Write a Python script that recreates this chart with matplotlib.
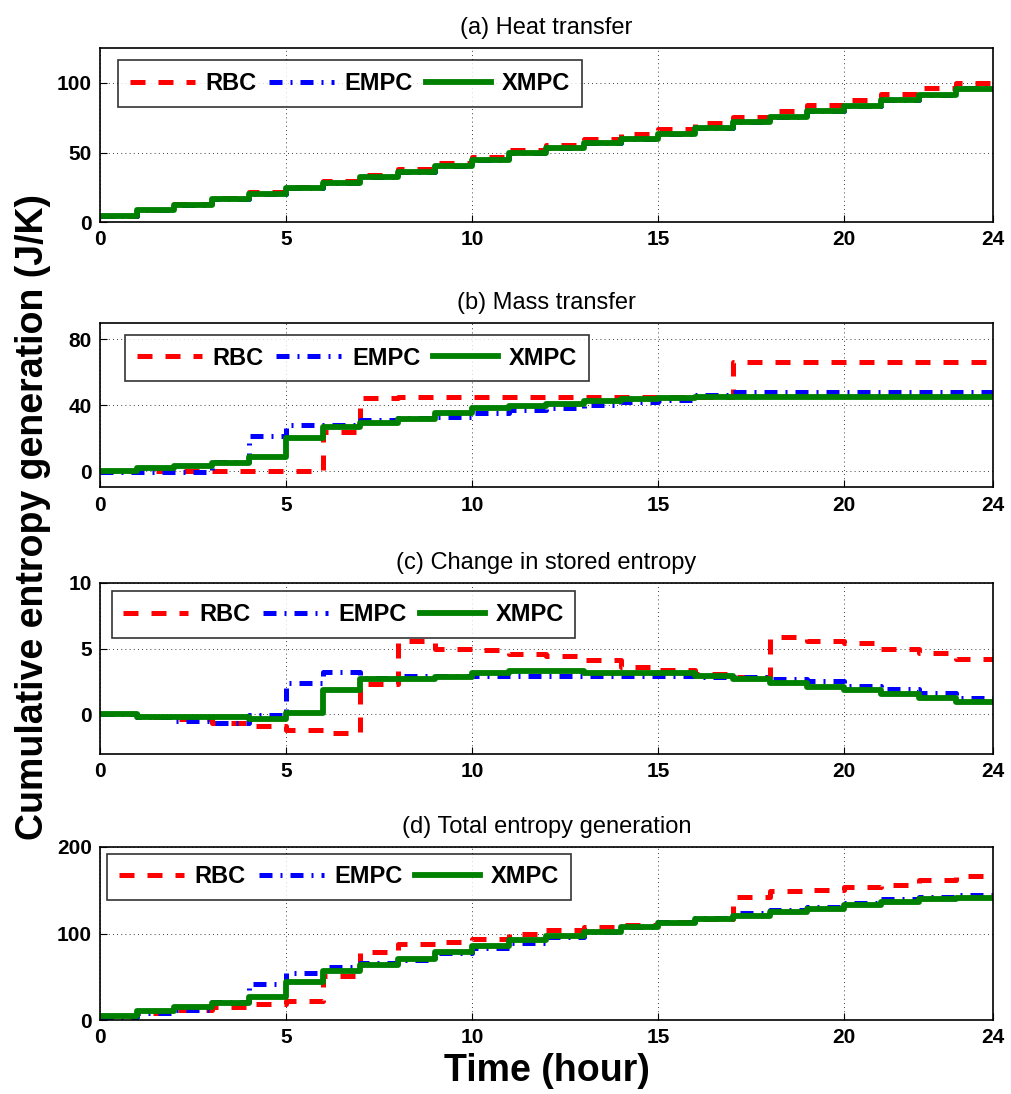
import matplotlib
matplotlib.use("Agg")
import matplotlib.pyplot as plt
import numpy as np

plt.rcParams['font.family'] = ['Liberation Sans', 'DejaVu Sans']

# hourly values, held constant over [k, k+1)
hours = np.arange(25)

heat_rbc = [4.5, 8.8, 13.0, 17.2, 21.3, 25.5, 29.5, 34.0, 38.2, 42.5, 47.0, 51.5, 55.5, 59.5, 63.3, 67.2, 71.5, 75.8, 79.8, 84.0, 88.0, 92.2, 96.0, 100.0]
heat_empc = [4.5, 8.4, 12.4, 16.3, 20.1, 24.2, 27.8, 32.1, 36.1, 40.2, 44.7, 49.3, 52.9, 56.5, 60.0, 63.6, 67.9, 72.0, 75.6, 79.7, 83.5, 87.6, 91.4, 96.0]
heat_xmpc = [4.5, 8.4, 12.4, 16.3, 20.1, 24.2, 27.8, 32.1, 36.1, 40.2, 44.7, 49.3, 52.9, 56.5, 60.0, 63.6, 67.9, 72.0, 75.6, 79.7, 83.5, 87.6, 91.1, 95.5]

mass_rbc = [0.0, 0.0, 0.0, 0.0, 0.0, 0.0, 24.0, 44.6, 44.7, 44.8, 44.8, 44.9, 44.9, 45.0, 45.0, 45.0, 45.0, 66.0, 66.0, 66.0, 66.0, 66.0, 66.0, 66.0]
mass_empc = [-0.4, -0.8, -0.4, 5.7, 21.4, 27.7, 27.9, 31.0, 32.0, 33.0, 35.0, 37.0, 38.0, 40.0, 42.0, 43.4, 46.0, 48.0, 48.0, 48.0, 48.0, 48.0, 48.0, 48.0]
mass_xmpc = [0.2, 2.0, 3.2, 4.6, 8.7, 20.2, 26.9, 28.9, 31.3, 35.0, 38.0, 39.4, 41.0, 42.6, 43.8, 44.4, 45.0, 45.0, 45.0, 45.0, 45.0, 45.0, 45.0, 45.0]

stored_rbc = [0.0, -0.2, -0.4, -0.7, -0.9, -1.2, -1.46, 2.3, 5.6, 5.0, 4.9, 4.6, 4.4, 4.1, 3.6, 3.4, 3.1, 2.8, 5.9, 5.6, 5.4, 5.0, 4.7, 4.2]
stored_empc = [0.0, -0.2, -0.5, -0.7, -0.05, 2.4, 3.2, 2.78, 2.9, 2.9, 2.9, 2.9, 2.9, 2.9, 2.9, 2.9, 2.85, 2.85, 2.7, 2.5, 2.15, 1.9, 1.64, 1.26]
stored_xmpc = [0.0, -0.18, -0.2, -0.25, -0.33, 0.08, 1.84, 2.7, 2.7, 2.83, 3.13, 3.28, 3.28, 3.16, 3.16, 3.13, 2.9, 2.68, 2.37, 2.07, 1.82, 1.52, 1.21, 0.93]

total_rbc = [5.0, 8.0, 12.0, 15.0, 19.0, 22.3, 51.0, 79.0, 87.7, 90.4, 94.0, 99.0, 104.0, 107.7, 110.4, 113.5, 117.3, 142.0, 149.0, 150.0, 154.0, 156.5, 161.5, 166.0]
total_empc = [4.0, 7.7, 11.5, 21.0, 41.5, 54.6, 61.5, 66.0, 69.0, 77.0, 82.7, 88.5, 96.0, 102.0, 107.7, 113.5, 118.5, 123.8, 127.0, 130.8, 135.4, 139.6, 142.3, 145.0]
total_xmpc = [5.0, 10.4, 15.4, 20.0, 27.0, 43.8, 57.0, 63.5, 70.0, 79.0, 85.8, 92.3, 97.0, 102.0, 107.7, 112.3, 117.3, 120.8, 125.0, 128.8, 132.7, 136.5, 139.6, 141.5]

titles = ['(a) Heat transfer', '(b) Mass transfer',
          '(c) Change in stored entropy', '(d) Total entropy generation']
series = [(heat_rbc, heat_empc, heat_xmpc),
          (mass_rbc, mass_empc, mass_xmpc),
          (stored_rbc, stored_empc, stored_xmpc),
          (total_rbc, total_empc, total_xmpc)]
ylims = [(0, 125), (-10, 90), (-3, 10), (0, 200)]
yticks = [[0, 50, 100], [0, 40, 80], [0, 5, 10], [0, 100, 200]]
xticks = [0, 5, 10, 15, 20, 24]
names = ['RBC', 'EMPC', 'XMPC']

# axes boxes in figure fraction (left, bottom, width, height)
boxes = [(0.0988, 0.797, 0.8824, 0.159),
         (0.0988, 0.5544, 0.8824, 0.1505),
         (0.0988, 0.3112, 0.8824, 0.1559),
         (0.0988, 0.0676, 0.8824, 0.1582)]
# upper-left corner of each legend box, axes fraction
leg_anchor = [(0.020, 0.931), (0.028, 0.927), (0.013, 0.953), (0.008, 0.962)]

fig = plt.figure(figsize=(10.12, 10.94), dpi=100)

for i in range(4):
    ax = fig.add_axes(boxes[i])
    rbc, empc, xmpc = series[i]
    ax.step(hours, rbc + [rbc[-1]], where='post', color='red',
            ls=(0, (3, 2.6)), lw=3.6, label=names[0])
    ax.step(hours, empc + [empc[-1]], where='post', color='blue',
            ls=(0, (2.6, 1.6, 0.4, 1.6)), lw=3.6, label=names[1])
    ax.step(hours, xmpc + [xmpc[-1]], where='post', color=(0, 0.5, 0),
            lw=4.2, label=names[2])
    ax.set_xlim(0, 24)
    ax.set_ylim(*ylims[i])
    ax.set_xticks(xticks)
    ax.set_yticks(yticks[i])
    ax.tick_params(direction='in', length=5, labelsize=15, pad=6)
    for lab in ax.get_xticklabels() + ax.get_yticklabels():
        lab.set_fontweight('bold')
    ax.grid(True, color='black', ls=(0, (1, 4)), lw=0.6)
    for sp in ax.spines.values():
        sp.set_linewidth(1.2)
    ax.set_title(titles[i], fontsize=17, pad=10)
    leg = ax.legend(loc='upper left', ncol=3, frameon=True, fancybox=False,
                    prop={'weight': 'bold', 'size': 17}, handlelength=2.75,
                    columnspacing=0.55, handletextpad=0.45, borderpad=0.5,
                    borderaxespad=0, bbox_to_anchor=leg_anchor[i])
    leg.get_frame().set_edgecolor('black')
    leg.get_frame().set_linewidth(1.2)

fig.text(0.033, 0.527, 'Cumulative entropy generation (J/K)', rotation=90,
         ha='center', va='center', fontsize=27, fontweight='bold')
fig.text(0.54, 0.021, 'Time (hour)', ha='center', va='center',
         fontsize=27, fontweight='bold')

fig.savefig('out.png', dpi=100)
